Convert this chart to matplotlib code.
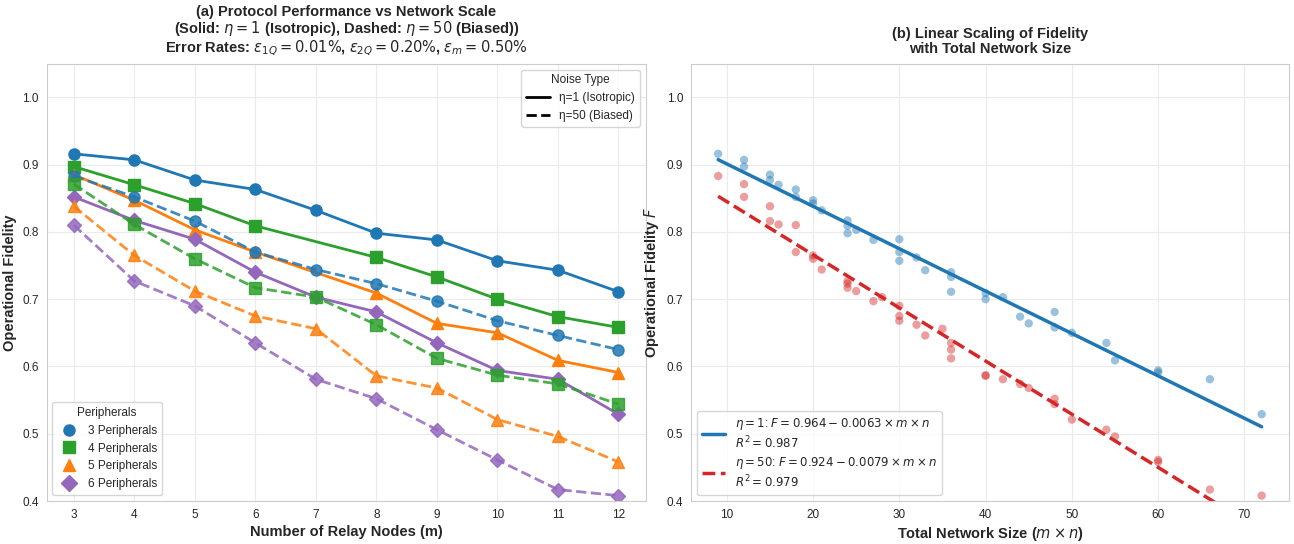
import numpy as np
import matplotlib
matplotlib.use("Agg")
import matplotlib.pyplot as plt
import seaborn as sns
from matplotlib.lines import Line2D

sns.set_style("whitegrid")
plt.rcParams['font.family'] = ['Liberation Sans', 'DejaVu Sans']
plt.rcParams['mathtext.fontset'] = 'dejavusans'

# ---------------------------------------------------------------- data
relay_nodes = np.arange(3, 13)
peripherals = [3, 4, 5, 6]
nan = np.nan

# eta = 1 (isotropic), one row per peripheral count
fid_iso = {
    3: [0.916, 0.907, 0.877, 0.863, 0.832, 0.798, 0.788, 0.757, 0.743, 0.711],
    4: [0.897, 0.870, 0.842, 0.809, nan, 0.762, 0.733, 0.700, 0.674, 0.658],
    5: [0.885, 0.847, 0.803, 0.770, nan, 0.709, 0.664, 0.650, 0.609, 0.591],
    6: [0.852, 0.817, 0.789, 0.740, 0.703, 0.681, 0.635, 0.594, 0.581, 0.529],
}
# eta = 50 (biased)
fid_bias = {
    3: [0.883, 0.852, 0.816, 0.770, 0.744, 0.723, 0.697, 0.668, 0.646, 0.625],
    4: [0.871, 0.811, 0.760, 0.717, 0.703, 0.662, 0.612, 0.587, 0.574, 0.544],
    5: [0.838, 0.765, 0.712, 0.675, 0.656, 0.586, 0.568, 0.521, 0.496, 0.458],
    6: [0.810, 0.727, 0.690, 0.635, 0.581, 0.552, 0.506, 0.461, 0.417, 0.408],
}

# linear fits shown in panel (b): intercept, slope, R^2
fit_iso = (0.964, -0.0063, 0.987)
fit_bias = (0.924, -0.0079, 0.979)

colors = {3: '#1f77b4', 4: '#2ca02c', 5: '#ff7f0e', 6: '#9467bd'}
markers = {3: 'o', 4: 's', 5: '^', 6: 'D'}

# ---------------------------------------------------------------- figure
fig = plt.figure(figsize=(12.94, 5.44), dpi=100)
ax1 = fig.add_axes([0.036, 0.079, 0.463, 0.804])
ax2 = fig.add_axes([0.534, 0.079, 0.462, 0.804])

for n in peripherals:
    y = np.array(fid_iso[n])
    ok = ~np.isnan(y)
    ax1.plot(relay_nodes[ok], y[ok], color=colors[n], marker=markers[n],
             ls='-', lw=2, ms=8 if n != 6 else 7.5)
for n in peripherals:
    y = np.array(fid_bias[n])
    ok = ~np.isnan(y)
    ax1.plot(relay_nodes[ok], y[ok], color=colors[n], marker=markers[n],
             ls='--', lw=2, ms=8 if n != 6 else 7.5, alpha=0.85)

ax1.set_ylim(0.4, 1.05)
ax1.set_xticks(relay_nodes)
ax1.set_xlabel('Number of Relay Nodes (m)', fontsize=10.5, fontweight='bold', labelpad=3)
ax1.set_ylabel('Operational Fidelity', fontsize=10.5, fontweight='bold', labelpad=4)
ax1.set_title('(a) Protocol Performance vs Network Scale\n'
              r'(Solid: $\eta = 1$ (Isotropic), Dashed: $\eta = 50$ (Biased))' '\n'
              r'Error Rates: $\varepsilon_{1Q} = 0.01\%$, $\varepsilon_{2Q} = 0.20\%$, $\varepsilon_m = 0.50\%$',
              fontsize=10.5, fontweight='bold', linespacing=1.05, pad=8)

per_handles = [Line2D([], [], color=colors[n], marker=markers[n], ls='none', ms=8,
                      label=f'{n} Peripherals') for n in peripherals]
leg1 = ax1.legend(handles=per_handles, title='Peripherals', loc='lower left',
                  fontsize=8.5, title_fontsize=8.5, frameon=True, handletextpad=0.6)
ax1.add_artist(leg1)
noise_handles = [Line2D([], [], color='black', ls='-', lw=2, label='η=1 (Isotropic)'),
                 Line2D([], [], color='black', ls='--', lw=2, label='η=50 (Biased)')]
ax1.legend(handles=noise_handles, title='Noise Type', loc='upper right',
           fontsize=8.5, title_fontsize=8.5, frameon=True)

# ---------------------------------------------------------------- panel b
size_iso, f_iso, size_bias, f_bias = [], [], [], []
for n in peripherals:
    for m, a, b in zip(relay_nodes, fid_iso[n], fid_bias[n]):
        if not np.isnan(a):
            size_iso.append(m * n); f_iso.append(a)
        if not np.isnan(b):
            size_bias.append(m * n); f_bias.append(b)

ax2.scatter(size_iso, f_iso, color='#1f77b4', alpha=0.45, s=36, edgecolors='none')
ax2.scatter(size_bias, f_bias, color='#d62728', alpha=0.45, s=36, edgecolors='none')

xfit = np.array([min(size_iso), max(size_iso)])
ax2.plot(xfit, fit_iso[0] + fit_iso[1] * xfit, color='#1f77b4', lw=2.5,
         label=r'$\eta = 1$: $F = 0.964 - 0.0063 \times m \times n$' '\n' r'$R^2 = 0.987$')
ax2.plot(xfit, fit_bias[0] + fit_bias[1] * xfit, color='#d62728', lw=2.5, ls='--',
         label=r'$\eta = 50$: $F = 0.924 - 0.0079 \times m \times n$' '\n' r'$R^2 = 0.979$')

ax2.set_xlim(5.85, 75.15)
ax2.set_ylim(0.4, 1.05)
ax2.set_xlabel(r'Total Network Size ($m \times n$)', fontsize=10.5, fontweight='bold', labelpad=3)
ax2.set_ylabel(r'Operational Fidelity $F$', fontsize=10.5, fontweight='bold', labelpad=4)
ax2.set_title('(b) Linear Scaling of Fidelity\nwith Total Network Size',
              fontsize=10.5, fontweight='bold', linespacing=1.05, pad=8)
ax2.legend(loc='lower left', fontsize=8.5, frameon=True, labelspacing=0.3)

for ax in (ax1, ax2):
    ax.tick_params(labelsize=8.5, pad=2)
    ax.grid(True, color='#ebebeb', lw=0.8)
    for s in ax.spines.values():
        s.set_edgecolor('#cccccc')

fig.savefig('out.png', dpi=100)
